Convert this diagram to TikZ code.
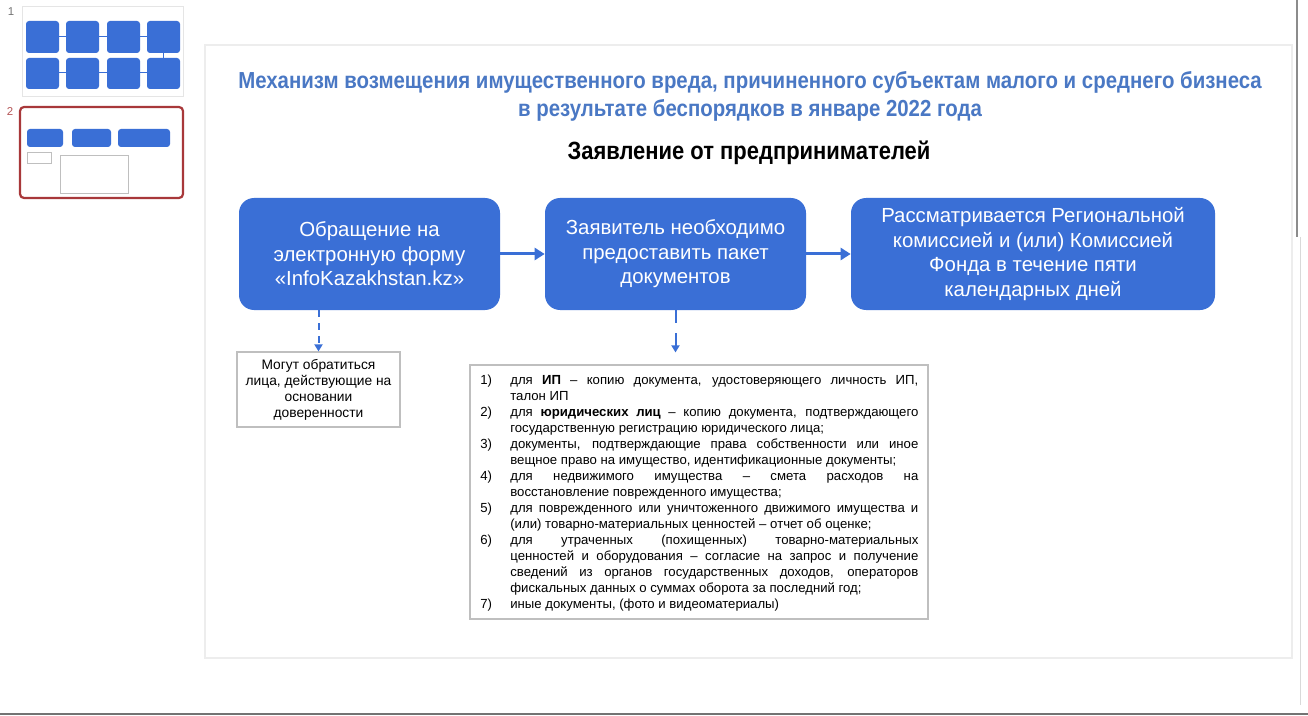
\documentclass[tikz,border=0pt]{standalone}
\usepackage{fontspec}
\setmainfont{Liberation Sans}
\newfontfamily\titlefont[FakeStretch=0.88]{Liberation Sans}
\usetikzlibrary{arrows.meta}
\definecolor{boxblue}{HTML}{3A6FD6}
\definecolor{titleblue}{HTML}{4A78C4}
\definecolor{thumbred}{HTML}{A8383A}
\newdimen\pxu \pxu=0.02cm

\begin{document}
\begin{tikzpicture}[x=0.02cm, y=-0.02cm,
  stepbox/.style={rounded corners=15\pxu, fill=boxblue, text=white, align=center,
    font=\fontsize{11.6}{14}\selectfont, inner sep=0pt},
  notebox/.style={draw=black!25, line width=1.2\pxu, fill=white, inner sep=0pt},
  flow/.style={boxblue, line width=3\pxu, -{Triangle[length=2mm, width=2.4mm]}},
  hint/.style={boxblue, line width=2\pxu, -{Triangle[length=1.4mm, width=1.6mm]}},
  thumb/.style={rounded corners=3\pxu, fill=boxblue}]
  \useasboundingbox (0,0) rectangle (1308,716);
  \fill[white] (0,0) rectangle (1308,716);
  % slide list on the left
  \node[text=black!55, font=\fontsize{6.5}{7}\selectfont] (n1) at (11,12) {1};
  \node[text=thumbred!85, font=\fontsize{6.5}{7}\selectfont] (n2) at (10,112) {2};
  \draw[black!10] (22,6) rectangle (183,96);
  \foreach \x in {26,66,107,147} {
    \fill[thumb] (\x,21) rectangle ++(33,32);
    \fill[thumb] (\x,58) rectangle ++(33,31);
  }
  \draw[boxblue, line width=1\pxu] (59,37) -- (66,37) (99,37) -- (107,37) (140,37) -- (147,37)
    (163,53) -- (163,58) (59,73) -- (66,73) (99,73) -- (107,73) (140,73) -- (147,73);
  \draw[thumbred, line width=2.2\pxu, rounded corners=4\pxu] (20,107) rectangle (183,198);
  \fill[thumb] (27,129) rectangle (63,147);
  \fill[thumb] (72,129) rectangle (111,147);
  \fill[thumb] (118,129) rectangle (170,147);
  \draw[black!25, line width=0.8\pxu] (27,152) rectangle (51,163);
  \draw[black!25, line width=0.8\pxu] (60,155) rectangle (128,193);
  % slide frame and window edges
  \draw[black!7, line width=1.5\pxu] (205,45) rectangle (1292,658);
  \draw[black!45, line width=1.5\pxu] (1297,0) -- (1297,237);
  \draw[black!15, line width=1\pxu] (1300,237) -- (1300,705);
  \draw[black!55, line width=2.5\pxu] (0,714) -- (1308,714);
  % titles
  \node[text=titleblue, align=center, font=\titlefont\bfseries\fontsize{13.2}{15.9}\selectfont]
    (title) at (750,96) {Механизм возмещения имущественного вреда, причиненного субъектам малого и среднего бизнеса\\
    в результате беспорядков в январе 2022 года};
  \node[font=\titlefont\bfseries\fontsize{14.2}{15}\selectfont] (sub) at (749,153) {Заявление от предпринимателей};
  % main steps
  \node[stepbox, minimum width=261\pxu, minimum height=112\pxu] (form) at (369.5,254)
    {Обращение на\\электронную форму\\«InfoKazakhstan.kz»};
  \node[stepbox, minimum width=261\pxu, minimum height=112\pxu] (docs) at (675.5,254)
    {Заявитель необходимо\\предоставить пакет\\документов};
  \node[stepbox, minimum width=364\pxu, minimum height=112\pxu] (review) at (1033,254)
    {Рассматривается Региональной\\комиссией и (или) Комиссией\\Фонда в течение пяти\\календарных дней};
  % notes
  \node[notebox, minimum width=163\pxu, minimum height=75\pxu, align=center,
    font=\fontsize{7.85}{9.1}\selectfont] (proxy) at (318.5,389.5)
    {Могут обратиться\\лица, действующие на\\основании\\доверенности};
  \node[notebox, minimum width=458\pxu, minimum height=254\pxu] (list) at (699,492) {};
  \node[text width=438\pxu, align=justify, inner sep=0pt, anchor=north west,
    font=\fontsize{7.5}{9.1}\selectfont] (items) at (480,375) {%
    \hangindent=30\pxu\hangafter=1\noindent\makebox[30\pxu][l]{1)}для \textbf{ИП} – копию документа, удостоверяющего личность ИП,\linebreak талон ИП\par
    \hangindent=30\pxu\hangafter=1\noindent\makebox[30\pxu][l]{2)}для \textbf{юридических лиц} – копию документа, подтверждающего\linebreak государственную регистрацию юридического лица;\par
    \hangindent=30\pxu\hangafter=1\noindent\makebox[30\pxu][l]{3)}документы, подтверждающие права собственности или иное\linebreak вещное право на имущество, идентификационные документы;\par
    \hangindent=30\pxu\hangafter=1\noindent\makebox[30\pxu][l]{4)}для недвижимого имущества – смета расходов на\linebreak восстановление поврежденного имущества;\par
    \hangindent=30\pxu\hangafter=1\noindent\makebox[30\pxu][l]{5)}для поврежденного или уничтоженного движимого имущества и\linebreak (или) товарно-материальных ценностей – отчет об оценке;\par
    \hangindent=30\pxu\hangafter=1\noindent\makebox[30\pxu][l]{6)}для утраченных (похищенных) товарно-материальных\linebreak ценностей и оборудования – согласие на запрос и получение\linebreak сведений из органов государственных доходов, операторов\linebreak фискальных данных о суммах оборота за последний год;\par
    \hangindent=30\pxu\hangafter=1\noindent\makebox[30\pxu][l]{7)}иные документы, (фото и видеоматериалы)\par};
  % connectors
  \draw[flow] (form) -- (docs);
  \draw[flow] (docs) -- (review);
  \draw[hint, dash pattern=on 1.4mm off 1.2mm] (form.south -| proxy.north) -- (proxy.north);
  \draw[hint, dash pattern=on 2.6mm off 2mm] (docs.south) -- ([yshift=12\pxu]list.north -| docs.south);
\end{tikzpicture}
\end{document}
